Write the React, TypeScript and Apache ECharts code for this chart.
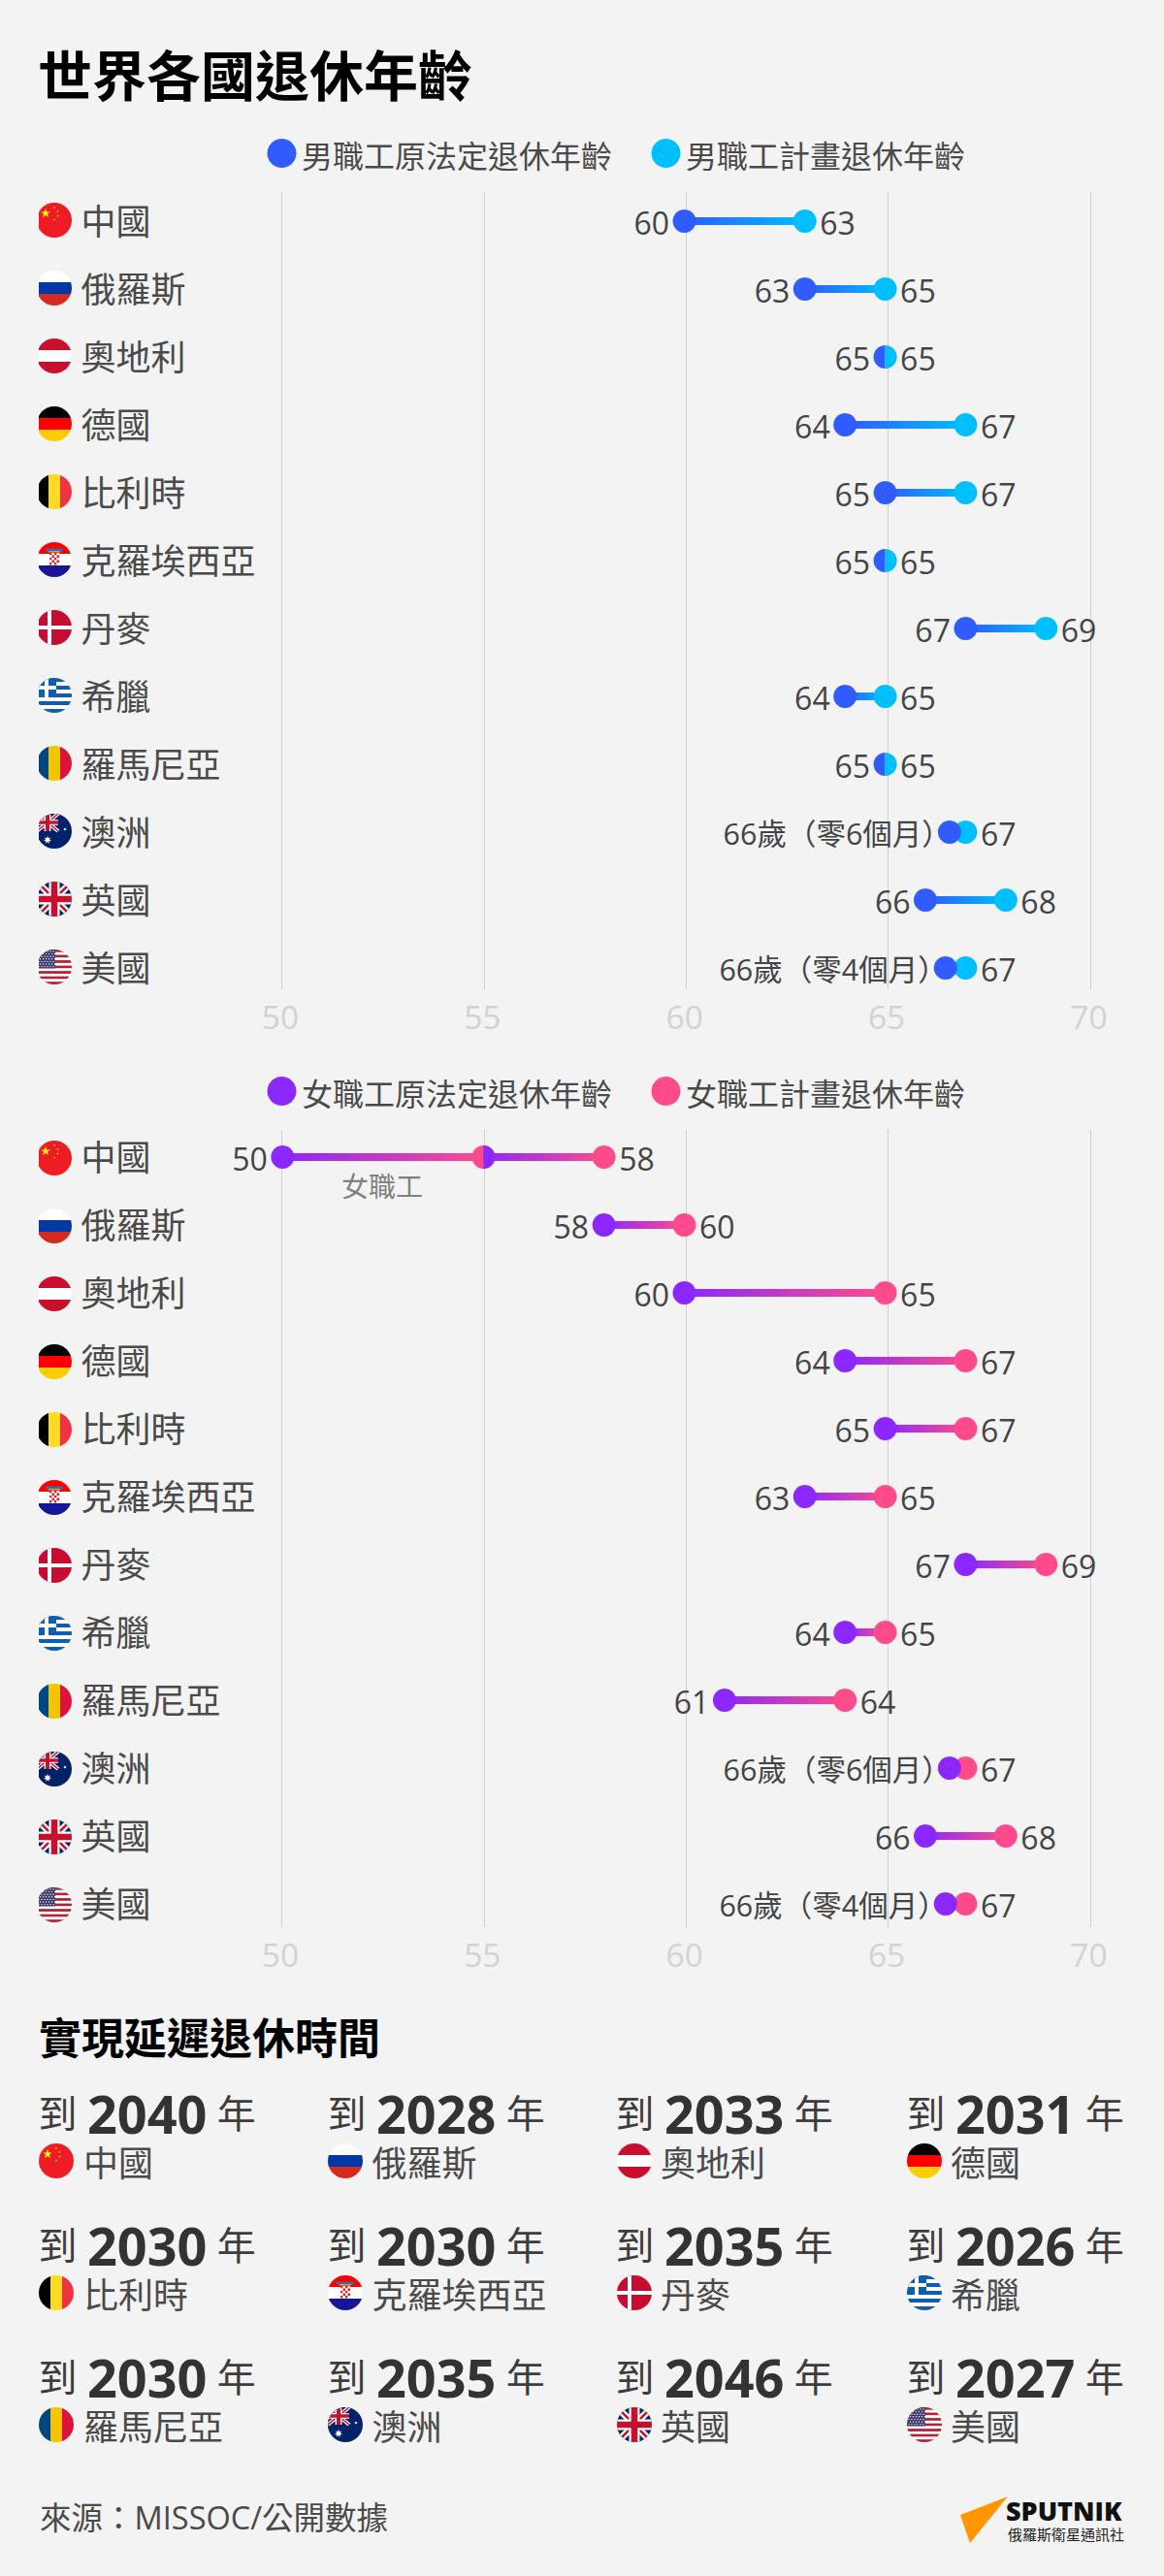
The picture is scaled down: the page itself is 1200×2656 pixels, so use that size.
import React, { useEffect, useRef } from "react";
import * as echarts from "echarts";

const countries = ["中國", "俄羅斯", "奧地利", "德國", "比利時", "克羅埃西亞", "丹麥", "希臘", "羅馬尼亞", "澳洲", "英國", "美國"];
const flagKeys = ["cn", "ru", "at", "de", "be", "hr", "dk", "gr", "ro", "au", "gb", "us"];
const axisTicks = [50, 55, 60, 65, 70];

const maleOld = [60, 63, 65, 64, 65, 65, 67, 64, 65, 66.6, 66, 66.5];
const malePlanned = [63, 65, 65, 67, 67, 65, 69, 65, 65, 67, 68, 67];
const maleOldLabels = ["60", "63", "65", "64", "65", "65", "67", "64", "65", "66歲（零6個月）", "66", "66歲（零4個月）"];

const femaleOld = [50, 58, 60, 64, 65, 63, 67, 64, 61, 66.6, 66, 66.5];
const femalePlanned = [58, 60, 65, 67, 67, 65, 69, 65, 64, 67, 68, 67];
const femaleOldLabels = ["50", "58", "60", "64", "65", "63", "67", "64", "61", "66歲（零6個月）", "66", "66歲（零4個月）"];
const chinaFemaleCadre = 55;

const delayYears = [2040, 2028, 2033, 2031, 2030, 2030, 2035, 2026, 2030, 2035, 2046, 2027];

const FONT = '"Open Sans","Noto Sans CJK TC",sans-serif';
const CJK = '"Noto Sans CJK TC",sans-serif';
const BG = "#f3f3f3";
const TEXT = "#4a4a4a";
const BLUE = "#2f5bff";
const CYAN = "#00bfff";
const PURPLE = "#8b28ff";
const PINK = "#ff4b8b";

function star(cx: number, cy: number, r: number, fill: string, n = 5, inner = 0.4) {
  const pts: string[] = [];
  for (let i = 0; i < n * 2; i++) {
    const a = -Math.PI / 2 + (i * Math.PI) / n;
    const rr = i % 2 ? r * inner : r;
    pts.push(`${(cx + rr * Math.cos(a)).toFixed(2)},${(cy + rr * Math.sin(a)).toFixed(2)}`);
  }
  return `<polygon points="${pts.join(" ")}" fill="${fill}"/>`;
}
function hstripes(cols: string[]) {
  const h = 36 / cols.length;
  return cols.map((c, i) => `<rect x="0" y="${i * h}" width="36" height="${h + 0.1}" fill="${c}"/>`).join("");
}
function vstripes(cols: string[]) {
  const w = 36 / cols.length;
  return cols.map((c, i) => `<rect x="${i * w}" y="0" width="${w + 0.1}" height="36" fill="${c}"/>`).join("");
}
function unionJack(w: number, h: number) {
  const s = w / 36;
  return `<g transform="scale(${s} ${h / 36})"><rect width="36" height="36" fill="#012169"/>` +
    `<path d="M0 0L36 36M36 0L0 36" stroke="#fff" stroke-width="7"/>` +
    `<path d="M0 0L36 36M36 0L0 36" stroke="#c8102e" stroke-width="2.6"/>` +
    `<path d="M18 0V36M0 18H36" stroke="#fff" stroke-width="11"/>` +
    `<path d="M18 0V36M0 18H36" stroke="#c8102e" stroke-width="6.6"/></g>`;
}
function croatiaShield() {
  let s = `<rect x="9" y="6.5" width="18" height="3" fill="#2a6fb5"/><rect x="12" y="9" width="12" height="1.5" fill="#d9a520"/>`;
  for (let r = 0; r < 5; r++) for (let c = 0; c < 4; c++) {
    s += `<rect x="${13 + c * 2.5}" y="${11 + r * 2.5}" width="2.5" height="2.5" fill="${(r + c) % 2 ? "#fff" : "#ee1c25"}"/>`;
  }
  return s;
}
function usCanton() {
  let s = `<rect width="19" height="19.4" fill="#3c3b6e"/>`;
  for (let r = 0; r < 7; r++) for (let c = 0; c < 6; c++) {
    s += `<circle cx="${2 + c * 3 + (r % 2) * 1.5}" cy="${2 + r * 2.6}" r="0.7" fill="#fff"/>`;
  }
  return s;
}
const flagArt: Record<string, () => string> = {
  cn: () => `<rect width="36" height="36" fill="#ee1c25"/>` + star(9, 11, 5, "#ffff00") + star(18, 5, 1.3, "#ffff00") + star(21.5, 9, 1.3, "#ffff00") + star(21.5, 13.5, 1.3, "#ffff00") + star(18, 17.5, 1.3, "#ffff00"),
  ru: () => hstripes(["#ffffff", "#0039a6", "#d52b1e"]),
  at: () => hstripes(["#c8102e", "#ffffff", "#c8102e"]),
  de: () => hstripes(["#000000", "#ff0000", "#ffcc00"]),
  be: () => vstripes(["#000000", "#fdda24", "#ef3340"]),
  hr: () => hstripes(["#ff0000", "#ffffff", "#171796"]) + croatiaShield(),
  dk: () => `<rect width="36" height="36" fill="#c60c30"/><rect y="16" width="36" height="4" fill="#fff"/><rect x="11" width="4" height="36" fill="#fff"/>`,
  gr: () => hstripes(["#0d5eaf", "#fff", "#0d5eaf", "#fff", "#0d5eaf", "#fff", "#0d5eaf", "#fff", "#0d5eaf"]) + `<rect width="20" height="20" fill="#0d5eaf"/><rect y="8" width="20" height="4" fill="#fff"/><rect x="8" width="4" height="20" fill="#fff"/>`,
  ro: () => vstripes(["#00467f", "#f5c400", "#dc143c"]),
  au: () => `<rect width="36" height="36" fill="#012169"/>` + unionJack(22, 18) + star(11, 27, 4.2, "#fff", 7, 0.45) + star(29, 16, 1.8, "#fff", 7, 0.45),
  gb: () => unionJack(36, 36),
  us: () => hstripes(["#b22234", "#fff", "#b22234", "#fff", "#b22234", "#fff", "#b22234", "#fff", "#b22234", "#fff", "#b22234", "#fff", "#b22234"]) + usCanton(),
};
function flagUrl(key: string, crop = 0) {
  const w = 36 - crop;
  const svg = `<svg xmlns="http://www.w3.org/2000/svg" width="${w}" height="36" viewBox="${crop} 0 ${w} 36"><defs><clipPath id="c"><circle cx="18" cy="18" r="18"/></clipPath></defs><g clip-path="url(#c)">${flagArt[key]()}</g></svg>`;
  return "data:image/svg+xml;charset=utf-8," + encodeURIComponent(svg);
}

type Segment = { row: number; start: number; end: number; left: string; right: string; splitStart?: boolean };

function segments(oldV: number[], newV: number[], oldL: string[]): Segment[] {
  return oldV.map((v, i) => ({ row: i, start: v, end: newV[i], left: oldL[i], right: String(newV[i]) }));
}
const maleSegments = segments(maleOld, malePlanned, maleOldLabels);
const femaleSegments: Segment[] = [
  { row: 0, start: femaleOld[0], end: chinaFemaleCadre, left: femaleOldLabels[0], right: "" },
  { row: 0, start: chinaFemaleCadre, end: femalePlanned[0], left: "", right: String(femalePlanned[0]), splitStart: true },
  ...segments(femaleOld, femalePlanned, femaleOldLabels).slice(1),
];

function dumbbellSeries(segs: Segment[], c0: string, c1: string, axisIndex: number) {
  const R = 12;
  return {
    type: "custom",
    xAxisIndex: axisIndex,
    yAxisIndex: axisIndex,
    clip: false,
    silent: true,
    encode: { x: [0, 2], y: 1 },
    data: segs.map((s) => [s.start, s.row, s.end]),
    renderItem: (p: any, api: any) => {
      const s = segs[p.dataIndex];
      const [x0, y] = api.coord([s.start, s.row]);
      const [x1] = api.coord([s.end, s.row]);
      const kids: any[] = [];
      if (x1 > x0) {
        kids.push({
          type: "rect",
          shape: { x: x0, y: y - 4, width: x1 - x0, height: 8 },
          style: { fill: new echarts.graphic.LinearGradient(0, 0, 1, 0, [{ offset: 0, color: c0 }, { offset: 1, color: c1 }]) },
        });
      }
      const half = (color: string, a0: number, a1: number) => ({
        type: "sector",
        shape: { cx: x0, cy: y, r: R, r0: 0, startAngle: a0, endAngle: a1, clockwise: true },
        style: { fill: color },
      });
      if (s.start === s.end) {
        kids.push(half(c0, Math.PI / 2, (3 * Math.PI) / 2));
        kids.push(half(c1, -Math.PI / 2, Math.PI / 2));
      } else {
        kids.push({ type: "circle", shape: { cx: x1, cy: y, r: R }, style: { fill: c1 } });
        if (s.splitStart) kids.push(half(c0, -Math.PI / 2, Math.PI / 2));
        else kids.push({ type: "circle", shape: { cx: x0, cy: y, r: R }, style: { fill: c0 } });
      }
      const lab = (text: string, x: number, align: string, size = 32) => ({
        type: "text",
        x,
        y: y + 1,
        style: { text, fontSize: size, fontFamily: FONT, fill: "#444444", textAlign: align, textVerticalAlign: "middle" },
      });
      // The long labels end in a full-width bracket, whose blank half runs up to the dot's centre.
      if (s.left) kids.push(s.left.length > 2 ? lab(s.left, x0 + 2, "right", 30.5) : lab(s.left, x0 - 15.5, "right"));
      if (s.right) kids.push(lab(s.right, x1 + 15.5, "left"));
      return { type: "group", children: kids };
    },
  };
}

function txt(text: string, x: number, y: number, fontSize: number, fill: string, extra: any = {}) {
  return { type: "text", x, y, style: { text, fontSize, fill, fontFamily: FONT, textVerticalAlign: "middle", ...extra } };
}
function legendItem(cx: number, y: number, color: string, label: string) {
  return [
    { type: "circle", shape: { cx, cy: y, r: 15 }, style: { fill: color } },
    txt(label, cx + 20.5, y + 2.5, 32, TEXT),
  ];
}

const ROW_Y = [228, 1195];
const yearRowY = [2178.5, 2314.5, 2450.5];
const yearColX = [39.5, 337.5, 634.5, 934.5];
const flagColX = [58, 356, 654, 953];
const nameColX = [86, 383.5, 681, 980];

function buildGraphic() {
  const els: any[] = [];
  els.push(txt("世界各國退休年齡", 39, 74, 56, "#000000", { fontWeight: "bold", fontFamily: CJK }));
  els.push(...legendItem(290.5, 158, BLUE, "男職工原法定退休年齡"));
  els.push(...legendItem(686.5, 158, CYAN, "男職工計畫退休年齡"));
  els.push(...legendItem(290.5, 1125, PURPLE, "女職工原法定退休年齡"));
  els.push(...legendItem(686.5, 1125, PINK, "女職工計畫退休年齡"));
  ROW_Y.forEach((y0) => {
    flagKeys.forEach((k, i) => {
      els.push({ type: "image", x: 40, y: y0 - 19 + i * 70, style: { image: flagUrl(k, 2), width: 34, height: 36 } });
    });
  });
  els.push(txt("女職工", 352, 1223, 28, "#808080"));
  els.push(txt("實現延遲退休時間", 40, 2099, 44, "#000000", { fontWeight: "bold", fontFamily: CJK }));
  delayYears.forEach((yr, i) => {
    const c = i % 4;
    const r = Math.floor(i / 4);
    els.push({
      type: "text",
      x: yearColX[c],
      y: yearRowY[r],
      style: {
        text: `{a|到 }{b|${yr}}{a| 年}`,
        textVerticalAlign: "middle",
        rich: {
          a: { fontSize: 40, fontFamily: FONT, fill: "#3d3d3d", lineHeight: 40 },
          b: { fontSize: 54, fontWeight: "bold", fontFamily: FONT, fill: "#333333", lineHeight: 40 },
        },
      },
    });
    els.push({ type: "image", x: flagColX[c] - 18, y: yearRowY[r] + 31.5, style: { image: flagUrl(flagKeys[i]), width: 36, height: 36 } });
    els.push(txt(countries[i], nameColX[c], yearRowY[r] + 51.5, 36, TEXT));
  });
  els.push(txt("來源：MISSOC/公開數據", 41, 2595, 32.5, TEXT));
  els.push({ type: "polygon", shape: { points: [[1039, 2574], [990, 2593], [1000, 2622]] }, style: { fill: "#ff9600" } });
  els.push(txt("SPUTNIK", 1037, 2588, 27, "#111111", { fontWeight: 800 }));
  els.push(txt("俄羅斯衛星通訊社", 1039, 2612, 15, "#222222", { fontFamily: CJK }));
  return els;
}

// Gridline layer: carries the visible axis (50..70 from x=290.5 to x=1124).
function gridlineAxis(gridIndex: number) {
  return {
    gridIndex,
    type: "value",
    min: axisTicks[0],
    max: axisTicks[axisTicks.length - 1],
    interval: 5,
    axisLine: { show: false },
    axisTick: { show: false },
    splitLine: { show: true, lineStyle: { color: "#cfcfcf", width: 1 } },
    axisLabel: { color: "#d2d2d2", fontSize: 33.5, fontFamily: FONT, margin: 28, verticalAlign: "middle", padding: [0, 3, 0, 0] },
  };
}
// Mark layer: the reference's dots sit on a slightly tighter scale than its gridlines.
function markAxis(gridIndex: number) {
  return { gridIndex, type: "value", min: 50, max: 70, show: false };
}
function rowAxis(gridIndex: number, padTop: number) {
  return {
    gridIndex,
    type: "category",
    inverse: true,
    data: countries,
    axisLine: { show: false },
    axisTick: { show: false },
    axisLabel: { interval: 0, align: "left", margin: 207.8, fontSize: 36, color: TEXT, fontFamily: FONT, verticalAlign: "middle", lineHeight: 40, padding: [padTop, 0, 0, 0] },
  };
}

function buildOption() {
  return {
    animation: false,
    backgroundColor: BG,
    grid: [
      { left: 291.3, top: 193, width: 828.4, height: 840 },
      { left: 291.3, top: 1158, width: 828.4, height: 840 },
      { left: 290.5, top: 198, width: 833.5, height: 822 },
      { left: 290.5, top: 1165, width: 833.5, height: 822 },
    ],
    xAxis: [markAxis(0), markAxis(1), gridlineAxis(2), gridlineAxis(3)],
    yAxis: [
      rowAxis(0, 7),
      rowAxis(1, 10),
      { gridIndex: 2, type: "value", min: 0, max: 1, show: false },
      { gridIndex: 3, type: "value", min: 0, max: 1, show: false },
    ],
    series: [dumbbellSeries(maleSegments, BLUE, CYAN, 0), dumbbellSeries(femaleSegments, PURPLE, PINK, 1)],
    graphic: { elements: buildGraphic() },
  };
}

export default function App() {
  const ref = useRef<HTMLDivElement>(null);
  useEffect(() => {
    document.body.style.margin = "0";
    document.body.style.background = BG;
    const chart = echarts.init(ref.current!, undefined, { renderer: "svg" });
    chart.setOption(buildOption() as any);
    return () => chart.dispose();
  }, []);
  return <div ref={ref} style={{ width: 1200, height: 2656 }} />;
}
